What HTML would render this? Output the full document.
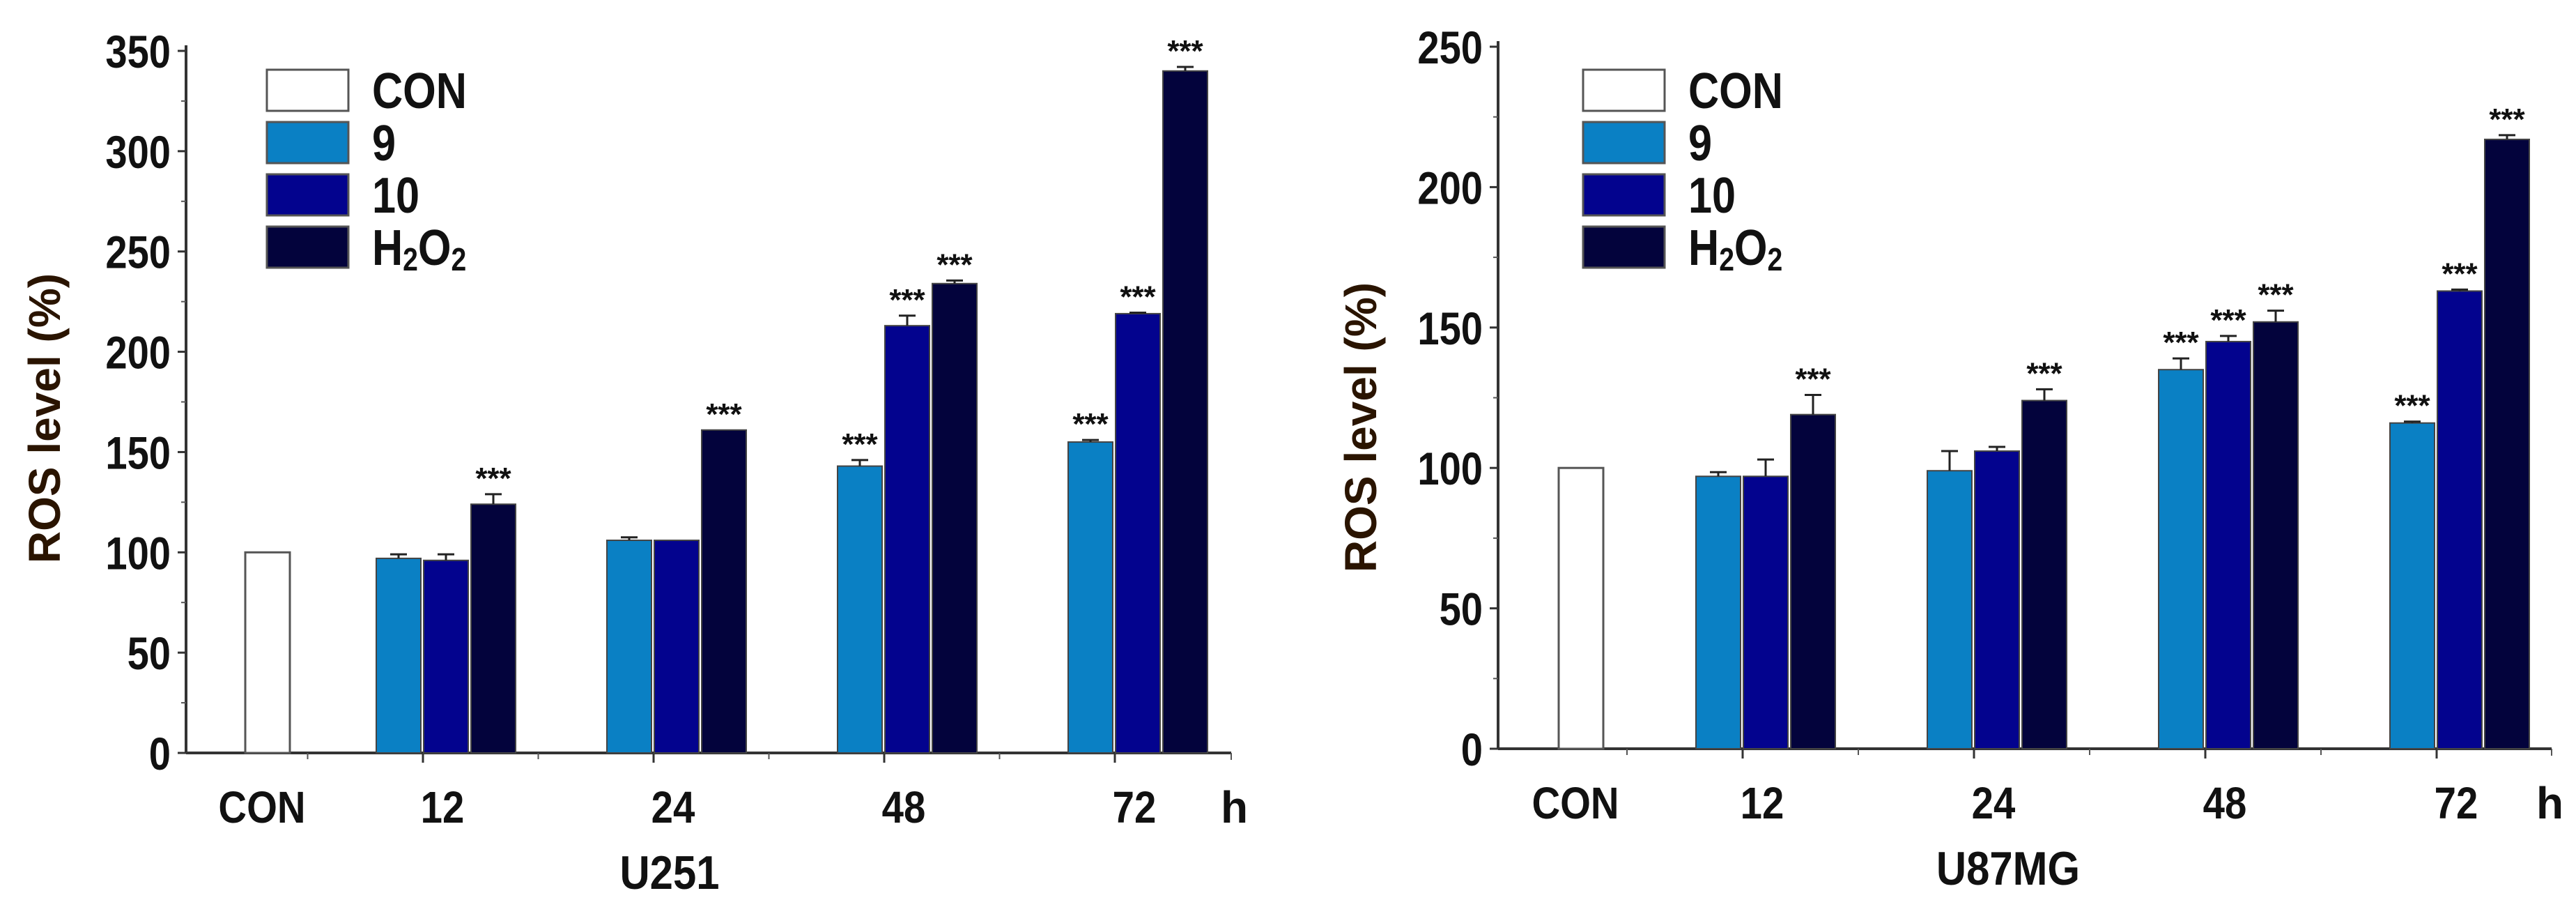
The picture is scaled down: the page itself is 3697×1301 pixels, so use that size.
<!DOCTYPE html>
<html><head><meta charset="utf-8"><style>
html,body{margin:0;padding:0;background:#fff;}
svg{display:block;}
text{font-family:"Liberation Sans",Arial,sans-serif;font-weight:bold;}
</style></head>
<body>
<svg id="svg" width="3697" height="1301" viewBox="0 0 3697 1301" xmlns="http://www.w3.org/2000/svg"></svg>
<script>
const groups = ["12","24","48","72"];
const seriesNames = ["9","10","H2O2"];
const u251Con = 100;
const u251S9 = [97,106,143,155];
const u251S10 = [96,106,213,219];
const u251H2O2 = [124,161,234,340];
const u251E9 = [2,1.5,3,1];
const u251E10 = [3,0,5,0.5];
const u251EH = [5,0,1.5,2];
const u251Sig9 = [0,0,1,1];
const u251Sig10 = [0,0,1,1];
const u251SigH = [1,1,1,1];
const u251Ticks = [0,50,100,150,200,250,300,350];
const u87Con = 100;
const u87S9 = [97,99,135,116];
const u87S10 = [97,106,145,163];
const u87H2O2 = [119,124,152,217];
const u87E9 = [1.5,7,4,0.5];
const u87E10 = [6,1.5,2,0.5];
const u87EH = [7,4,4,1.5];
const u87Sig9 = [0,0,1,1];
const u87Sig10 = [0,0,1,1];
const u87SigH = [1,1,1,1];
const u87Ticks = [0,50,100,150,200,250];

const NS="http://www.w3.org/2000/svg";
const svg=document.getElementById('svg');
const colors=["#0a80c4","#03038e","#03033c"];
function mk(tag,attrs,parent){const e=document.createElementNS(NS,tag);for(const k in attrs)e.setAttribute(k,attrs[k]);(parent||svg).appendChild(e);return e;}
function sx(x,s){return `translate(${x} 0) scale(${s} 1) translate(${-x} 0)`;}

function chart(o){
  const g=mk('g',{});
  
  
  const ymax=o.ticks[o.ticks.length-1];
  const y=v=>o.y0-(v/ymax)*(o.y0-o.ytop);
  const gx=i=>o.g0+i*o.gs;
  const bw=o.bw;
  const ya=mk('line',{x1:o.x0,y1:o.ytop-8,x2:o.x0,y2:o.y0,stroke:'#333','stroke-width':4},g);
  
  const xa=mk('line',{x1:o.x0,y1:o.y0,x2:o.xend,y2:o.y0,stroke:'#333','stroke-width':4},g);
  
  o.ticks.forEach((t,i)=>{
    mk('line',{x1:o.x0-12,y1:y(t),x2:o.x0,y2:y(t),stroke:'#333','stroke-width':3},g);
    if(i<o.ticks.length-1){const m=(t+o.ticks[i+1])/2;mk('line',{x1:o.x0-7,y1:y(m),x2:o.x0,y2:y(m),stroke:'#555','stroke-width':2},g);}
    const tx=mk('text',{x:o.x0-22,y:y(t)+24,'text-anchor':'end','font-size':66,fill:'#111',transform:sx(o.x0-22,0.85)},g);
    tx.textContent=t;
    
  });
  for(let i=0;i<4;i++){
    mk('line',{x1:gx(i)-o.tickOff,y1:o.y0,x2:gx(i)-o.tickOff,y2:o.y0+14,stroke:'#333','stroke-width':3},g);
    mk('line',{x1:gx(i)-o.tickOff-o.gs/2,y1:o.y0,x2:gx(i)-o.tickOff-o.gs/2,y2:o.y0+9,stroke:'#555','stroke-width':2},g);
  }
  mk('line',{x1:o.xend,y1:o.y0,x2:o.xend,y2:o.y0+10,stroke:'#555','stroke-width':2},g);
  const cb=mk('rect',{x:o.conX-bw/2,y:y(o.con),width:bw,height:o.y0-y(o.con),fill:'#fff',stroke:'#555','stroke-width':3},g);
  
  const lbl=(txt,x,name)=>{const t=mk('text',{x:x,y:o.y0+100,'text-anchor':'middle','font-size':64,fill:'#111',transform:sx(x,0.88)},g);t.textContent=txt;};
  lbl('CON',o.conX-8,'x-tick-label');
  groups.forEach((gname,i)=>{
    lbl(gname,gx(i)-o.tickOff+28,'x-tick-label');
    o.series.forEach((arr,s)=>{
      const cx=gx(i)+(s-1)*(bw+4);
      const v=arr[i];
      const r=mk('rect',{x:cx-bw/2,y:y(v),width:bw,height:o.y0-y(v),fill:colors[s],stroke:'#444','stroke-width':2},g);
      
      
      const e=o.errs[s][i];
      if(e>0){
        const top=y(v+e);
        mk('line',{x1:cx,y1:y(v),x2:cx,y2:top,stroke:'#222','stroke-width':3},g);
        mk('line',{x1:cx-12,y1:top,x2:cx+12,y2:top,stroke:'#222','stroke-width':3},g);
      }
      if(o.sigs[s][i]){
        const st=mk('text',{x:cx,y:y(v+e)-8,'text-anchor':'middle','font-size':44,fill:'#111'},g);
        st.textContent='***';
        
      }
    });
  });
  const h=mk('text',{x:o.hX,y:o.y0+100,'font-size':64,fill:'#111'},g);h.textContent='h';
  
  const xt=mk('text',{x:o.titleX,y:o.y0+195,'text-anchor':'middle','font-size':68,fill:'#111',transform:sx(o.titleX,0.88)},g);
  xt.textContent=o.title;
  const yt=mk('text',{x:0,y:0,'text-anchor':'middle','font-size':64,fill:'#2a1400',transform:`translate(${o.ytX} ${o.ytY}) rotate(-90)`},g);
  yt.textContent='ROS level (%)';
  const lf=['#fff'].concat(colors);
  const ln=['CON','9','10',null];
  for(let k=0;k<4;k++){
    const ly=o.legY+k*75;
    const lg=mk('g',{},g);
    
    mk('rect',{x:o.legX,y:ly,width:117,height:59,fill:lf[k],stroke:'#555','stroke-width':3},lg);
    const t=mk('text',{x:o.legX+151,y:ly+55,'font-size':72,fill:'#111',transform:sx(o.legX+151,0.85)},lg);
    if(ln[k]!==null)t.textContent=ln[k];
    else{t.textContent='H';const a=mk('tspan',{'font-size':46,dy:8},t);a.textContent='2';const b=mk('tspan',{dy:-8},t);b.textContent='O';const c=mk('tspan',{'font-size':46,dy:8},t);c.textContent='2';}
  }
}
chart({name:'chart-u251',x0:267,xend:1767,y0:1080,ytop:73,ticks:u251Ticks,g0:640,gs:331,bw:64,tickOff:33,conX:384,
  con:u251Con,series:[u251S9,u251S10,u251H2O2],errs:[u251E9,u251E10,u251EH],sigs:[u251Sig9,u251Sig10,u251SigH],
  hX:1752,titleX:961,title:'U251',ytX:86,ytY:600,legX:383,legY:100});
chart({name:'chart-u87mg',x0:2150,xend:3662,y0:1074,ytop:67,ticks:u87Ticks,g0:2534,gs:332,bw:64,tickOff:33,conX:2269,
  con:u87Con,series:[u87S9,u87S10,u87H2O2],errs:[u87E9,u87E10,u87EH],sigs:[u87Sig9,u87Sig10,u87SigH],
  hX:3640,titleX:2882,title:'U87MG',ytX:1975,ytY:613,legX:2272,legY:100});
</script>
</body></html>
